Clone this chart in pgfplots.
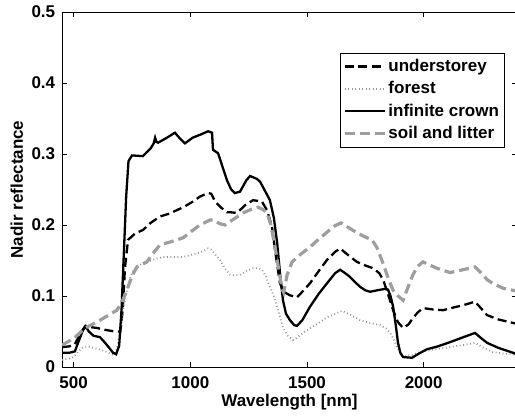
\documentclass[border=0pt]{standalone}
\usepackage{fontspec}
\setmainfont{Liberation Sans}
\usepackage{pgfplots}
\pgfplotsset{compat=1.18}
\definecolor{soilgray}{RGB}{158,158,158}
\definecolor{forestgray}{RGB}{150,150,150}
\begin{document}
\fontsize{17}{20}\selectfont\bfseries
\begin{tikzpicture}
\begin{axis}[
  scale only axis,
  width=455pt, height=355pt,
  xmin=450, xmax=2400, ymin=0, ymax=0.5,
  xtick={500,1000,1500,2000},
  ytick={0,0.1,0.2,0.3,0.4,0.5},
  yticklabels={0,0.1,0.2,0.3,0.4,0.5},
  xticklabels={500,1000,1500,2000},
  tick align=inside,
  major tick length=5pt,
  tick style={black, line width=0.6pt},
  axis line style={black, line width=0.8pt},
  /pgf/number format/assume math mode=true,
  ticklabel style={font=\fontsize{17}{20}\selectfont\bfseries},
  xticklabel style={yshift=-4pt},
  yticklabel style={xshift=-1pt},
  xlabel={Wavelength [nm]},
  ylabel={Nadir reflectance},
  label style={font=\fontsize{17}{20}\selectfont\bfseries},
  xlabel style={yshift=6pt},
  ylabel style={yshift=-3pt},
  legend style={at={(0.972,0.885)}, anchor=north east, draw=black, line width=0.6pt,
    font=\fontsize{17}{20}\selectfont\bfseries, inner xsep=3pt, inner ysep=4pt, row sep=3.5pt,
    cells={anchor=west}},
  legend image code/.code={\draw[#1] (0pt,0pt) -- (40pt,0pt);},
]
\addplot[black, line width=2.3pt, dash pattern=on 9pt off 4.5pt] coordinates {
(450,0.028) (480,0.029) (505,0.032) (530,0.048) (550,0.058) (575,0.056) (600,0.055) (640,0.052) (677,0.050) (700,0.050) (710,0.080) (720,0.140) (733,0.179) (763,0.188) (797,0.193) (830,0.203) (870,0.212) (910,0.216) (943,0.221) (975,0.226) (1011,0.233) (1041,0.240) (1076,0.245) (1090,0.244) (1106,0.233) (1130,0.225) (1157,0.218) (1170,0.218) (1200,0.217) (1235,0.228) (1269,0.235) (1307,0.233) (1330,0.220) (1350,0.197) (1365,0.160) (1384,0.118) (1400,0.106) (1427,0.101) (1457,0.098) (1480,0.106) (1513,0.118) (1550,0.135) (1586,0.151) (1620,0.162) (1642,0.167) (1675,0.158) (1714,0.148) (1750,0.143) (1784,0.139) (1810,0.132) (1826,0.123) (1845,0.105) (1869,0.080) (1890,0.063) (1912,0.055) (1935,0.060) (1954,0.069) (1975,0.077) (1997,0.083) (2040,0.081) (2083,0.080) (2130,0.084) (2169,0.087) (2200,0.090) (2220,0.092) (2245,0.083) (2272,0.073) (2320,0.067) (2383,0.062) (2400,0.061)
};
\addlegendentry{understorey}
\addplot[forestgray, line width=1.8pt, dash pattern=on 0.9pt off 2.6pt] coordinates {
(450,0.010) (480,0.012) (500,0.014) (520,0.022) (541,0.028) (560,0.029) (583,0.027) (620,0.024) (650,0.020) (669,0.017) (685,0.025) (699,0.048) (712,0.080) (728,0.108) (742,0.125) (756,0.137) (785,0.144) (814,0.148) (850,0.152) (883,0.155) (930,0.155) (969,0.155) (1005,0.158) (1041,0.161) (1076,0.167) (1090,0.165) (1110,0.157) (1127,0.151) (1150,0.138) (1170,0.130) (1190,0.129) (1213,0.130) (1240,0.135) (1269,0.139) (1290,0.139) (1307,0.137) (1325,0.127) (1341,0.113) (1358,0.100) (1372,0.085) (1385,0.070) (1397,0.056) (1415,0.045) (1440,0.038) (1460,0.042) (1483,0.048) (1530,0.058) (1586,0.070) (1620,0.075) (1650,0.079) (1690,0.073) (1727,0.066) (1770,0.062) (1813,0.059) (1840,0.054) (1856,0.048) (1870,0.040) (1886,0.028) (1900,0.019) (1912,0.015) (1950,0.017) (1984,0.021) (2050,0.025) (2113,0.028) (2170,0.031) (2220,0.034) (2250,0.028) (2297,0.021) (2340,0.019) (2383,0.018) (2400,0.017)
};
\addlegendentry{forest}
\addplot[black, line width=2.3pt] coordinates {
(450,0.020) (480,0.020) (505,0.022) (520,0.035) (540,0.052) (552,0.057) (565,0.050) (585,0.044) (613,0.042) (640,0.032) (669,0.020) (682,0.018) (695,0.030) (705,0.080) (715,0.160) (725,0.240) (735,0.290) (750,0.298) (797,0.297) (830,0.308) (843,0.315) (849,0.323) (855,0.317) (862,0.316) (900,0.323) (934,0.330) (955,0.322) (977,0.315) (1010,0.323) (1041,0.327) (1076,0.332) (1093,0.330) (1097,0.306) (1119,0.301) (1140,0.280) (1157,0.263) (1175,0.250) (1191,0.245) (1213,0.247) (1240,0.263) (1256,0.269) (1285,0.265) (1299,0.261) (1320,0.248) (1341,0.235) (1358,0.210) (1372,0.175) (1385,0.130) (1397,0.094) (1410,0.075) (1427,0.066) (1445,0.059) (1457,0.058) (1480,0.066) (1513,0.085) (1550,0.103) (1586,0.118) (1620,0.132) (1642,0.137) (1660,0.133) (1684,0.127) (1705,0.120) (1727,0.113) (1750,0.108) (1770,0.106) (1800,0.108) (1834,0.110) (1847,0.109) (1858,0.100) (1869,0.085) (1880,0.060) (1890,0.034) (1900,0.020) (1912,0.014) (1950,0.013) (1980,0.019) (2014,0.025) (2060,0.029) (2113,0.035) (2170,0.042) (2220,0.048) (2245,0.041) (2272,0.034) (2320,0.027) (2383,0.020) (2400,0.018)
};
\addlegendentry{infinite crown}
\addplot[soilgray, line width=3.2pt, dash pattern=on 10pt off 5pt] coordinates {
(450,0.031) (500,0.040) (549,0.055) (580,0.060) (613,0.066) (650,0.073) (685,0.080) (705,0.090) (728,0.108) (750,0.128) (771,0.141) (814,0.148) (840,0.160) (870,0.172) (913,0.176) (969,0.182) (1000,0.190) (1041,0.200) (1084,0.207) (1100,0.207) (1125,0.202) (1149,0.200) (1180,0.207) (1226,0.217) (1260,0.222) (1290,0.225) (1310,0.222) (1329,0.217) (1345,0.200) (1363,0.169) (1380,0.135) (1393,0.110) (1400,0.105) (1415,0.130) (1436,0.148) (1470,0.158) (1513,0.169) (1550,0.180) (1586,0.190) (1620,0.199) (1645,0.203) (1680,0.196) (1714,0.189) (1750,0.183) (1779,0.179) (1800,0.168) (1826,0.146) (1850,0.123) (1869,0.108) (1890,0.100) (1912,0.094) (1930,0.110) (1954,0.130) (1975,0.142) (1997,0.148) (2030,0.143) (2057,0.139) (2113,0.133) (2169,0.137) (2220,0.141) (2245,0.133) (2272,0.123) (2300,0.117) (2340,0.111) (2383,0.108) (2400,0.107)
};
\addlegendentry{soil and litter}
\end{axis}
\pgfresetboundingbox
\useasboundingbox ([shift={(-62pt,-48pt)}]current axis.south west) rectangle ([shift={(-2pt,12pt)}]current axis.north east);
\end{tikzpicture}
\end{document}
